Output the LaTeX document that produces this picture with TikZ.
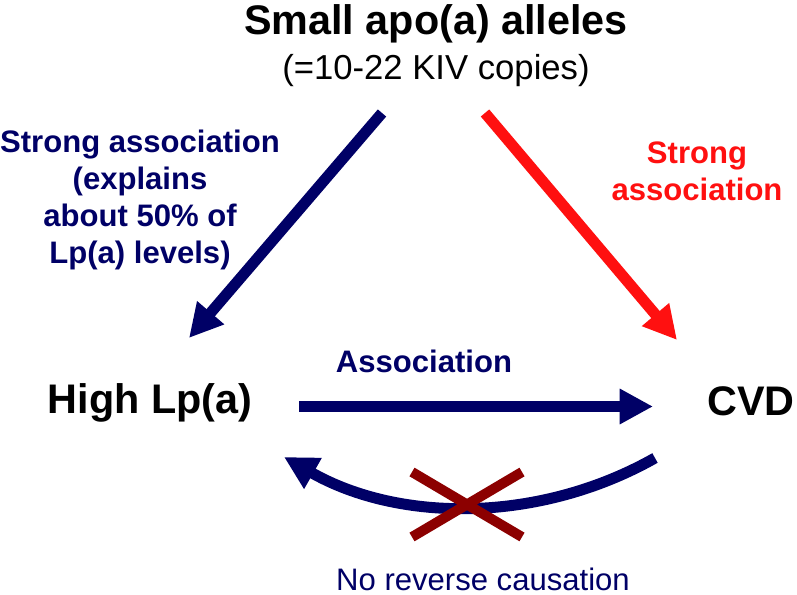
\documentclass[tikz,border=0pt]{standalone}
\usepackage{fontspec}
\setmainfont{Liberation Sans}
\usetikzlibrary{arrows.meta}

\definecolor{navyblue}{RGB}{0,0,102}
\definecolor{brightred}{RGB}{255,16,16}
\definecolor{crossred}{RGB}{140,0,0}

\begin{document}
\begin{tikzpicture}[x=0.75pt,y=-0.75pt,>={Triangle[length=25pt,width=25pt]}]
            \tikzstyle{every node} = [inner sep=0pt,align=center];
            \tikzstyle{bigtext} = [font=\bfseries\fontsize{31}{36}\selectfont];
            \tikzstyle{midtext} = [font=\bfseries\fontsize{23.3}{27.75}\selectfont];
            \tikzstyle{link} = [line width=8.25pt];
            \useasboundingbox (0,0) rectangle (797,595);
            \node[bigtext,anchor=base] (alleles) at (436,35) {Small apo(a) alleles};
            \node[anchor=base,font=\fontsize{26}{31}\selectfont] (copies) at (436,80) {(=10-22 KIV copies)};
            \node[bigtext,anchor=base] (lpa) at (150,414) {High Lp(a)};
            \node[bigtext,anchor=base] (cvd) at (751,416) {CVD};
            \node[midtext,navyblue,anchor=north] (strongleft) at (140,130) {Strong association\\(explains\\about 50\% of\\Lp(a) levels)};
            \node[midtext,brightred,anchor=north] (strongright) at (697,142) {Strong\\association};
            \node[midtext,navyblue,anchor=base] (assoc) at (424,373) {Association};
            \node[anchor=base,navyblue,font=\fontsize{23.3}{28}\selectfont] (noreverse) at (483,590) {No reverse causation};
            % arrow ends
            \coordinate (leftstart) at (382,113);
            \coordinate (lefttip) at (189,338);
            \coordinate (rightstart) at (485,113);
            \coordinate (righttip) at (677,340);
            \coordinate (midstart) at (299,406.5);
            \coordinate (midtip) at (653,406.5);
            \coordinate (backstart) at (655,458);
            \coordinate (backtip) at (284,457);
            \draw[->,link,navyblue] (leftstart) -- (lefttip);
            \draw[->,link,brightred] (rightstart) -- (righttip);
            \draw[->,link,navyblue] (midstart) -- (midtip);
            \draw[->,link,navyblue] (backstart) .. controls (540,523) and (400,523) .. (backtip);
            % the cross
            \draw[crossred,line width=7.5pt] (412,472) -- (522,537) (412,537) -- (522,472);
        \end{tikzpicture}
\end{document}
